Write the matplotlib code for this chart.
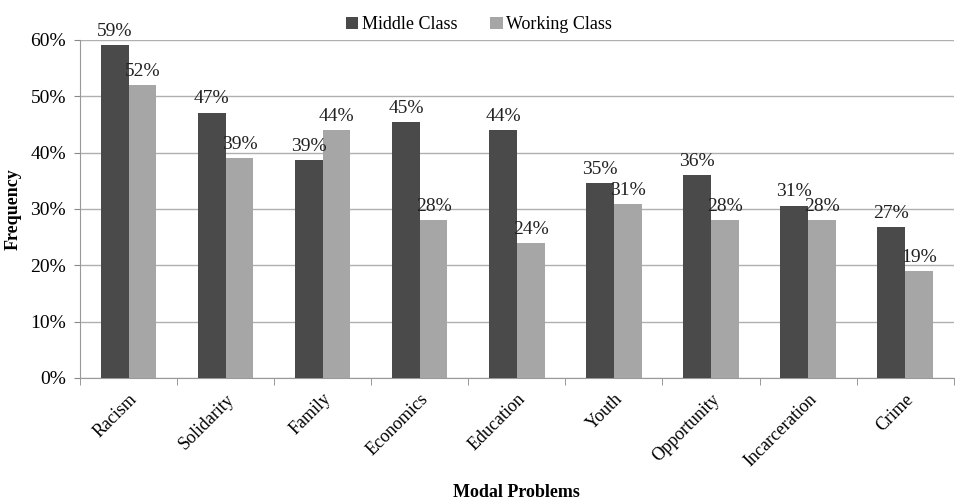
import numpy as np
import matplotlib.pyplot as plt
from matplotlib.ticker import PercentFormatter

categories = ["Racism", "Solidarity", "Family", "Economics", "Education",
              "Youth", "Opportunity", "Incarceration", "Crime"]
middle_class = [59.0, 47.1, 38.6, 45.4, 44.0, 34.6, 36.0, 30.6, 26.8]
working_class = [52.0, 39.0, 44.0, 28.0, 24.0, 30.9, 28.0, 28.0, 19.0]
series_names = ["Middle Class", "Working Class"]

plt.rcParams['font.family'] = ['Liberation Serif', 'DejaVu Serif']

fig = plt.figure(figsize=(9.58, 5.04), dpi=100)
ax = fig.add_axes([0.0835, 0.25, 0.912, 0.671])

x = np.arange(len(categories))
w = 0.285
dark = "#4a4a4a"
light = "#a6a6a6"
b1 = ax.bar(x - w / 2, middle_class, w, color=dark, label=series_names[0], zorder=3)
b2 = ax.bar(x + w / 2, working_class, w, color=light, label=series_names[1], zorder=3)

# value labels above each bar
for bars, vals in ((b1, middle_class), (b2, working_class)):
    for rect, v in zip(bars, vals):
        ax.text(rect.get_x() + rect.get_width() / 2, v + 0.9, f"{v:.0f}%",
                ha='center', va='bottom', fontsize=14, color="#222222", zorder=4)

ax.set_xlim(-0.5, len(categories) - 0.5)
ax.set_ylim(0, 60)
ax.set_yticks(np.arange(0, 61, 10))
ax.yaxis.set_major_formatter(PercentFormatter(decimals=0))
ax.yaxis.grid(True, color="#b0b0b0", linewidth=1, zorder=0)

# ticks between categories on the x axis
ax.set_xticks(x)
ax.set_xticklabels(categories, rotation=45, ha='right', rotation_mode='anchor', fontsize=13)
ax.set_xticks(np.arange(-0.5, len(categories)), minor=True)
ax.tick_params(axis='x', which='major', length=0, pad=9)
ax.tick_params(axis='x', which='minor', length=5, color="#888888")
ax.tick_params(axis='y', length=4, color="#888888", labelsize=14, pad=6)

for side in ("top", "right"):
    ax.spines[side].set_visible(False)
for side in ("left", "bottom"):
    ax.spines[side].set_color("#999999")

ax.set_ylabel("Frequency", fontsize=13, fontweight='bold', labelpad=6)
ax.set_xlabel("Modal Problems", fontsize=13, fontweight='bold')
ax.xaxis.set_label_coords(0.5, -0.312)

fig.legend(loc='upper center', bbox_to_anchor=(0.5, 1.0), ncol=2, frameon=False,
           fontsize=13, handlelength=0.7, handleheight=0.7, handletextpad=0.2,
           columnspacing=1.8)

fig.savefig("out.png", dpi=100)
